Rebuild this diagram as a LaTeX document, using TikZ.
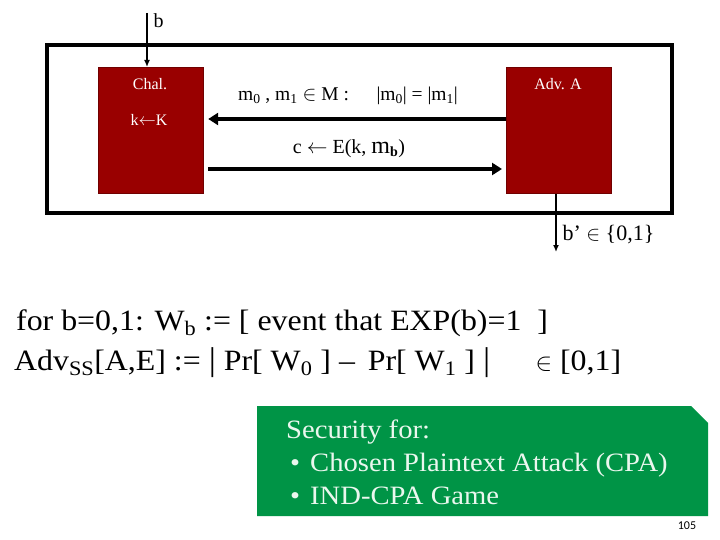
\documentclass[tikz,border=0pt]{standalone}
\usepackage{fontspec}
\setmainfont{Liberation Serif}
\newfontfamily\slidefont[FakeStretch=1.08]{Liberation Serif}
\newfontfamily\pagenofont{Carlito}
\usepackage{tikz}
\usetikzlibrary{arrows.meta,positioning}
\definecolor{ChalRed}{RGB}{153,0,0}
\definecolor{ChalEdge}{RGB}{112,0,0}
\definecolor{NoteGreen}{RGB}{0,148,70}
\definecolor{NoteText}{RGB}{234,247,238}

\begin{document}
\begin{tikzpicture}[x=1pt,y=-1pt,
    party/.style={draw=ChalEdge, line width=1.2pt, fill=ChalRed, minimum width=105pt, minimum height=126pt, inner sep=0pt, anchor=north west},
    plabel/.style={text=white, font=\fontsize{16}{18}\selectfont},
    wire/.style={line width=1.5pt, -{Latex[length=7pt,width=6pt]}},
    msg/.style={line width=4pt, -{Triangle[length=10pt,width=12pt]}},
    slideline/.style={anchor=base west, inner sep=0pt, font=\slidefont\fontsize{29.5}{34}\selectfont},
    noteline/.style={anchor=base west, inner sep=0pt, text=NoteText, font=\slidefont\fontsize{26.5}{30}\selectfont}]
  \useasboundingbox[fill=white] (0,0) rectangle (720,540);

  % the game
  \node[draw, line width=4pt, minimum width=625pt, minimum height=168pt, inner sep=0pt, anchor=north west] (game) at (45,43) {};
  \node[party] (chal) at (98,67) {};
  \node[party] (adv) at (506,67) {};
  \node[plabel] (chaltitle) at (150,84) {Chal.};
  \node[plabel] (keygen) at (149,120) {k$\leftarrow$K};
  \node[plabel] (advtitle) at (558,84) {Adv. A};

  % bit in, bit out
  \coordinate (bsrc) at (147,13);
  \draw[wire] (bsrc) -- (bsrc |- chal.north);
  \node[anchor=west, font=\fontsize{20}{22}\selectfont] (blabel) at (150,21) {b};
  \coordinate (bdst) at (556,252);
  \draw[wire] (adv.south -| bdst) -- (bdst);
  \node[anchor=west, font=\fontsize{22}{24}\selectfont] (bguess) at (559,235) {b’ $\in$ \{0,1\}};

  % messages
  \draw[msg] ([yshift=-52pt]adv.north west) -- ([xshift=4pt,yshift=-52pt]chal.north east);
  \draw[msg] ([xshift=4pt,yshift=-102pt]chal.north east) -- ([xshift=-4pt,yshift=-102pt]adv.north west);
  \node[font=\fontsize{19.5}{21}\selectfont] (query) at (348,96) {m\textsubscript{0} , m\textsubscript{1} $\in$ M :\quad\, |m\textsubscript{0}| = |m\textsubscript{1}|};
  \node[font=\fontsize{20}{22}\selectfont] (reply) at (349,149) {c $\leftarrow$ E(k, {\fontsize{24}{24}\selectfont m}\textsubscript{\textbf{b}})};

  % advantage
  \node[slideline] (wdef) at (16,330) {for b=0,1: W\textsubscript{b} := [ event that EXP(b)=1 \ ]};
  \node[slideline] (advdef) at (14,370) {Adv\textsubscript{SS}[A,E] := {\fontsize{33}{34}\selectfont|} Pr[ W\textsubscript{0} ] –\, Pr[ W\textsubscript{1} ] {\fontsize{33}{34}\selectfont|} \quad\ $\in$ [0,1]};

  % note
  \fill[NoteGreen] (257,406) -- (691,406) -- (708,423) -- (708,516) -- (257,516) -- cycle;
  \node[noteline] (note1) at (286,438) {Security for:};
  \node[noteline] (note2) at (290,471) {•\hspace{10pt}Chosen Plaintext Attack (CPA)};
  \node[noteline] (note3) at (290,504) {•\hspace{10pt}IND-CPA Game};
  \node[font=\pagenofont\fontsize{12}{14}\selectfont] (pageno) at (687,526) {105};
\end{tikzpicture}
\end{document}
